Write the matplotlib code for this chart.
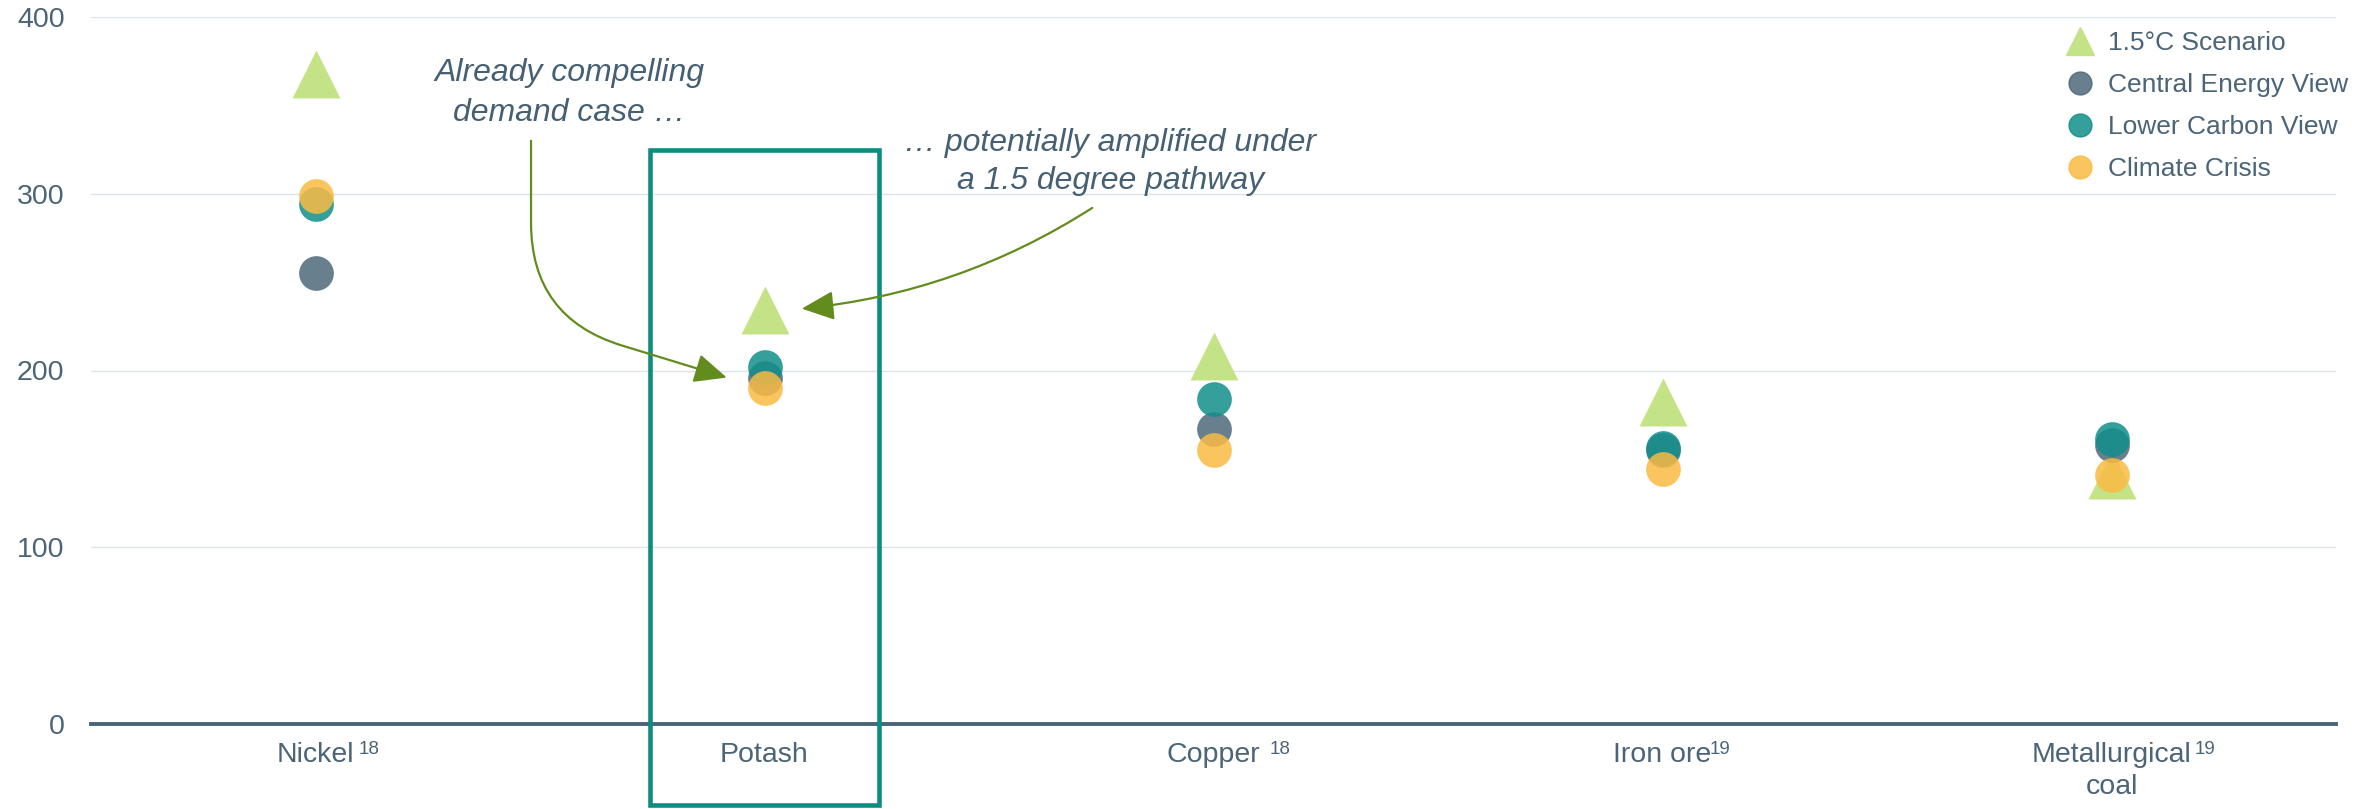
import matplotlib
matplotlib.use("Agg")
import matplotlib.pyplot as plt
from matplotlib.lines import Line2D
from matplotlib.patches import Rectangle

plt.rcParams['font.family'] = ['Liberation Sans', 'DejaVu Sans']

# demand index per commodity, by scenario
categories = ["Nickel", "Potash", "Copper", "Iron ore", "Metallurgical\ncoal"]
notes = ["18", "", "18", "19", "19"]
scenario_15 = [368, 234, 208, 182, 141]
central = [255, 196, 167, 155, 158]
lower_carbon = [294, 202, 184, 156, 161]
climate_crisis = [299, 190, 155, 144, 141]

# gap between label and footnote number, in points
note_gap = [3.5, 0, 7, -1.5, 2]

txt = '#4b6477'
c_tri = '#c4e386'
c_central = '#4d697a'
c_lower = '#118f8a'
c_crisis = '#faba43'
c_box = '#0e8c80'
c_arrow = '#628c1e'

fig = plt.figure(figsize=(23.79, 8.09), dpi=100)
ax = fig.add_axes([91 / 2379, 1 - 724 / 809, 2245 / 2379, 707 / 809])

x = list(range(len(categories)))
ax.scatter(x, scenario_15, marker='^', s=34.5 ** 2, color=c_tri, linewidths=0, zorder=3)
ax.scatter(x, central, marker='o', s=25 ** 2, color=c_central, alpha=0.85, linewidths=0, zorder=4)
ax.scatter(x, lower_carbon, marker='o', s=25 ** 2, color=c_lower, alpha=0.85, linewidths=0, zorder=5)
ax.scatter(x, climate_crisis, marker='o', s=25 ** 2, color=c_crisis, alpha=0.85, linewidths=0, zorder=6)

ax.set_xlim(-0.5, len(categories) - 0.5)
ax.set_ylim(0, 400)
ax.set_yticks([0, 100, 200, 300, 400])
ax.yaxis.grid(True, color='#dce4ea', linewidth=1)
ax.set_axisbelow(True)
for s in ['left', 'right', 'top']:
    ax.spines[s].set_visible(False)
ax.spines['bottom'].set_color(txt)
ax.spines['bottom'].set_linewidth(2.8)
ax.spines['bottom'].set_zorder(2)
ax.tick_params(axis='y', length=0, pad=19, labelsize=20.5, labelcolor=txt)
ax.set_xticks(x)
ax.set_xticklabels([])
ax.tick_params(axis='x', length=0)

# category labels with footnote markers
for i, (name, note) in enumerate(zip(categories, notes)):
    lab = ax.annotate(name, xy=(i, 0), xycoords=('data', 'axes fraction'),
                      xytext=(0, -13), textcoords='offset points',
                      ha='center', va='top', fontsize=20.5, color=txt,
                      linespacing=1.3, annotation_clip=False)
    if note:
        ax.annotate(note, xy=(1, 1), xycoords=lab, xytext=(note_gap[i], 0.5),
                    textcoords='offset points', ha='left', va='top',
                    fontsize=13.5, color=txt)

# highlight box around potash
px = categories.index("Potash")
ax.add_patch(Rectangle((px - 0.255, -46), 0.51, 371, fill=False,
                       edgecolor=c_box, linewidth=3.3, clip_on=False, zorder=7))

ax.text(0.565, 357, "Already compelling\ndemand case \u2026", ha='center', va='center',
        fontsize=23, style='italic', color='#456073', linespacing=1.4)
ax.text(1.77, 318, "\u2026 potentially amplified under\na 1.5 degree pathway", ha='center',
        va='center', fontsize=23, style='italic', color='#456073', linespacing=1.35)

ax.annotate("", xy=(px - 0.084, central[px]), xytext=(0.48, 330),
            arrowprops=dict(arrowstyle='-|>,head_length=1.0,head_width=0.45',
                            mutation_scale=20, color=c_arrow, lw=1.6,
                            shrinkA=0, shrinkB=0,
                            connectionstyle='angle,angleA=90,angleB=-17,rad=95'),
            zorder=8)
ax.annotate("", xy=(px + 0.083, scenario_15[px] + 1), xytext=(1.73, 292),
            arrowprops=dict(arrowstyle='-|>,head_length=1.0,head_width=0.45',
                            mutation_scale=20, color=c_arrow, lw=1.6,
                            shrinkA=0, shrinkB=0,
                            connectionstyle='arc3,rad=-0.12'),
            zorder=8)

handles = [
    Line2D([], [], marker='^', linestyle='none', color=c_tri, markersize=19.5),
    Line2D([], [], marker='o', linestyle='none', color=c_central, alpha=0.85, markersize=16.5),
    Line2D([], [], marker='o', linestyle='none', color=c_lower, alpha=0.85, markersize=16.5),
    Line2D([], [], marker='o', linestyle='none', color=c_crisis, alpha=0.85, markersize=16.5),
]
labels = ["1.5\u00b0C Scenario", "Central Energy View", "Lower Carbon View", "Climate Crisis"]
leg = fig.legend(handles, labels, loc='upper left', bbox_to_anchor=(2067 / 2379, 1 - 31 / 809),
                 frameon=False, fontsize=19, handlelength=1, handletextpad=0.55,
                 borderpad=0, borderaxespad=0, labelspacing=0.68)
for t in leg.get_texts():
    t.set_color(txt)

fig.savefig("out.png", dpi=100, facecolor='white')
